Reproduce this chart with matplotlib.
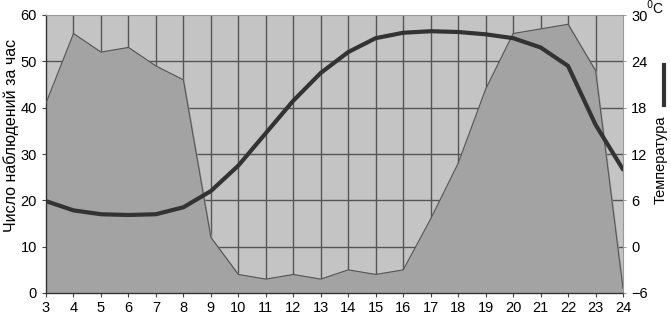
import matplotlib
matplotlib.use("Agg")
import matplotlib.pyplot as plt
from matplotlib.lines import Line2D

plt.rcParams['font.family'] = ['Liberation Sans', 'DejaVu Sans']

hours = [3, 4, 5, 6, 7, 8, 9, 10, 11, 12, 13, 14, 15, 16, 17, 18, 19, 20, 21, 22, 23, 24]
counts = [41, 56, 52, 53, 49, 46, 12, 4, 3, 4, 3, 5, 4, 5, 16, 28, 44, 56, 57, 58, 48, 1]
temps = [5.9, 4.7, 4.2, 4.1, 4.2, 5.1, 7.2, 10.5, 14.7, 18.9, 22.5, 25.2, 27.0, 27.7,
         27.9, 27.8, 27.5, 27.0, 25.8, 23.4, 15.8, 10.0]
left_ticks = [0, 10, 20, 30, 40, 50, 60]
right_ticks = [-6, 0, 6, 12, 18, 24, 30]

fig = plt.figure(figsize=(6.71, 3.17), dpi=100)
ax = fig.add_axes([46/671, 1 - 293/317, (623 - 46)/671, (293 - 15)/317])
ax.set_facecolor('#c4c4c4')

ax.fill_between(hours, counts, 0, color='#a3a3a3', zorder=2)
ax.plot(hours, counts, color='#555555', lw=0.8, zorder=3)

ax.set_xlim(3, 24)
ax.set_ylim(0, 60)
ax.set_xticks(hours)
ax.set_yticks(left_ticks)
for h in hours[1:-1]:
    ax.axvline(h, color='#555555', lw=1.0, zorder=1.5)
for v in left_ticks[1:-1]:
    ax.axhline(v, color='#555555', lw=1.0, zorder=1.5)

ax.tick_params(axis='both', labelsize=10.5, length=3, color='#444444', width=0.8)
ax.tick_params(axis='x', pad=3)
for s in ['left', 'bottom']:
    ax.spines[s].set_color('#333333')
    ax.spines[s].set_linewidth(1.0)
for s in ['top', 'right']:
    ax.spines[s].set_color('#999999')
    ax.spines[s].set_linewidth(0.8)
fig.text(11/671, 1 - 135/317, 'Число наблюдений за час', fontsize=11.5,
         rotation=90, ha='center', va='center')

ax2 = ax.twinx()
ax2.plot(hours, temps, color='#333333', lw=3, solid_capstyle='round', zorder=5)
ax2.set_ylim(-6, 30)
ax2.set_yticks(right_ticks)
ax2.tick_params(axis='y', labelsize=10.5, length=2, color='#888888', width=0.6, pad=4)
for s in ax2.spines.values():
    s.set_visible(False)
fig.text(661/671, 1 - 160/317, 'Температура', fontsize=10.5,
         rotation=90, ha='center', va='center')

fig.text(655/671, 1 - 8/317, '$^{0}$C', fontsize=10, ha='center', va='center')
fig.add_artist(Line2D([664/671, 664/671], [1 - 65/317, 1 - 105/317],
                      color='#333333', lw=3, transform=fig.transFigure))

fig.savefig('out.png', dpi=100)
